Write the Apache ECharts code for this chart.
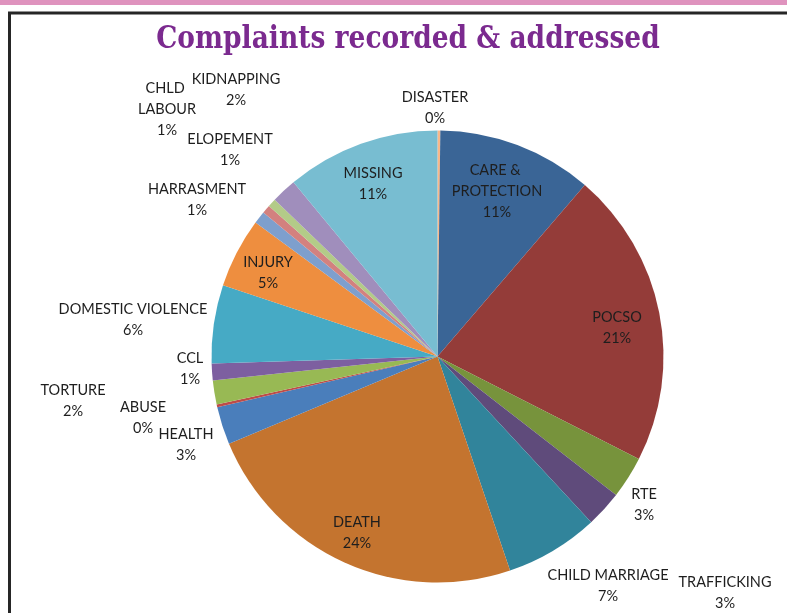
<!DOCTYPE html>
<html>
<head>
<meta charset="utf-8">
<script src="https://cdn.jsdelivr.net/npm/echarts@6/dist/echarts.min.js"></script>
<style>
  html, body { margin: 0; padding: 0; background: #fff; }
  #chart { width: 787px; height: 613px; }
</style>
</head>
<body>
<div id="chart"></div>
<script>
// categories in clockwise order, starting at 12 o'clock
var categories = ['DISASTER', 'CARE & PROTECTION', 'POCSO', 'RTE', 'TRAFFICKING', 'CHILD MARRIAGE',
    'DEATH', 'HEALTH', 'ABUSE', 'TORTURE', 'CCL', 'DOMESTIC VIOLENCE', 'INJURY', 'HARRASMENT',
    'ELOPEMENT', 'CHLD LABOUR', 'KIDNAPPING', 'MISSING'];
// share of complaints (%)
var shares = [0.2, 11.1, 21.2, 3.0, 2.6, 6.7, 23.9, 2.7, 0.2, 1.7, 1.2, 5.6, 5.0, 0.9, 0.6, 0.6, 1.8, 11.0];
var sliceColors = ['#F9B88A', '#3A6596', '#943C39', '#77933C', '#5F4B7B', '#31849B',
    '#C4742F', '#4A7EBB', '#BE4B48', '#98B954', '#7D5FA0', '#46AAC5', '#EE8E3F',
    '#7E9FCD', '#D3817F', '#B3CB88', '#A08EBC', '#78BDD1'];

// where Excel's "best fit" dropped each data label (label centre, px)
var labelSpots = {
    'DISASTER': [435, 108],
    'CARE & PROTECTION': [497, 191],
    'POCSO': [617, 328],
    'RTE': [644, 505],
    'TRAFFICKING': [725, 593],
    'CHILD MARRIAGE': [608, 586],
    'DEATH': [357, 533],
    'HEALTH': [186, 445],
    'ABUSE': [143, 418],
    'TORTURE': [73, 401],
    'CCL': [190, 369],
    'DOMESTIC VIOLENCE': [133, 320],
    'INJURY': [268, 273],
    'HARRASMENT': [197, 200],
    'ELOPEMENT': [230, 150],
    'CHLD LABOUR': [167, 109],
    'KIDNAPPING': [236, 90],
    'MISSING': [373, 184]
};

var cx = 437.5, cy = 356.5, radius = 226;

var pieData = [];
for (var i = 0; i < categories.length; i++) {
    var item = {
        name: categories[i],
        value: shares[i],
        itemStyle: { color: sliceColors[i] },
        label: {}
    };
    // Excel wrapped these two names
    if (categories[i] === 'CARE & PROTECTION') {
        item.label.width = 95;
        item.label.overflow = 'break';
    }
    if (categories[i] === 'CHLD LABOUR') {
        item.label.width = 62;
        item.label.overflow = 'break';
    }
    pieData.push(item);
}

var chart = echarts.init(document.getElementById('chart'), null, { renderer: 'canvas' });

var option = {
    backgroundColor: '#ffffff',
    animation: false,
    graphic: [
        { type: 'rect', shape: { x: 0, y: 0, width: 787, height: 5 }, style: { fill: '#DF93BE' }, silent: true },
        { type: 'line', shape: { x1: 8, y1: 13, x2: 787, y2: 13 }, style: { stroke: '#262626', lineWidth: 3 }, silent: true },
        { type: 'line', shape: { x1: 9.5, y1: 12, x2: 9.5, y2: 613 }, style: { stroke: '#262626', lineWidth: 3 }, silent: true },
        {
            type: 'text',
            x: 408,
            y: 40,
            scaleY: 1.22,
            silent: true,
            style: {
                text: 'Complaints recorded & addressed',
                font: 'bold 26.5px "DejaVu Serif"',
                fill: '#7B2A8F',
                textAlign: 'center',
                textVerticalAlign: 'middle'
            }
        }
    ],
    series: [{
        type: 'pie',
        center: [cx, cy],
        radius: [0, radius],
        startAngle: 90,
        clockwise: true,
        avoidLabelOverlap: false,
        percentPrecision: 2,
        itemStyle: { borderWidth: 0 },
        emphasis: { disabled: true },
        label: {
            show: true,
            position: 'outside',
            formatter: function (p) {
                return p.name + '\n' + Math.round(p.percent) + '%';
            },
            fontFamily: 'Lato',
            fontSize: 14.5,
            lineHeight: 21,
            color: '#1e1e1e',
            align: 'center'
        },
        labelLine: { show: false },
        labelLayout: function (p) {
            var spot = labelSpots[categories[p.dataIndex]];
            return { x: spot[0], y: spot[1], align: 'center', verticalAlign: 'middle' };
        },
        data: pieData
    }]
};

chart.setOption(option);
</script>
</body>
</html>
